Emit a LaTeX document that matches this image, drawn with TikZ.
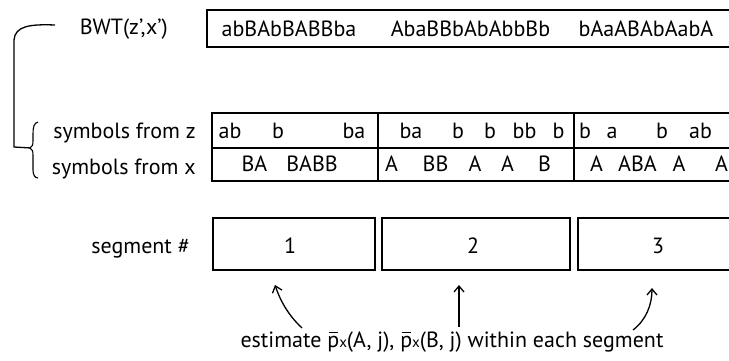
\documentclass[tikz,border=0pt]{standalone}
\usepackage{fontspec}
\setmainfont{PT Sans}
\usetikzlibrary{arrows.meta}
\newcommand\pbarx{\hbox{\rlap{\kern0.06em\raisebox{0.62em}{\rule{0.44em}{0.06em}}}p{\fontsize{15}{15}\selectfont x}}}
\begin{document}
\begin{tikzpicture}[x=1pt,y=-1pt,
  lbl/.style={font=\fontsize{22}{24}\selectfont, inner sep=0pt, anchor=base},
  rlbl/.style={font=\fontsize{22}{24}\selectfont, inner sep=0pt, anchor=base east},
  frame/.style={line width=1.4pt},
  hand/.style={line width=1.3pt, -{Straight Barb[length=6pt,width=10pt,line width=1.3pt]}}]
\useasboundingbox (0,0) rectangle (729,360);
\clip (0,0) rectangle (729,360);
% top label and box
\node[rlbl] (bwt) at (168,34) {BWT(z',x')};
\draw[frame] (740,10) -- (207,10) -- (207,47) -- (740,47);
\node[lbl] (t1) at (289,36) {abBAbBABBba};
\node[lbl] (t2) at (470.5,36) {AbaBBbAbAbbBb};
\node[lbl] (t3) at (646,36) {bAaABAbAabA};
% bracket
\draw[line width=1.3pt] (55,25) .. controls (30,24) and (15,26) .. (14,40) -- (14,147) -- (31,148);
\draw[line width=1.1pt] (38,122) .. controls (34,123) and (33,127) .. (33,134) -- (33,141) .. controls (33,145) and (32,147) .. (30,148) .. controls (32,149) and (33,151) .. (33,155) -- (33,170) .. controls (33,175) and (35,178) .. (38,178);
% symbol labels
\node[rlbl] (sz) at (196,138) {symbols from z};
\node[rlbl] (sx) at (196,174) {symbols from x};
% table
\draw[frame] (740,113) -- (212,113) -- (212,181) -- (740,181);
\draw[frame] (212,148) -- (740,148);
\draw[frame] (378,113) -- (378,181);
\draw[frame] (574,113) -- (574,181);
% row 1
\node[lbl] (z1) at (230,138) {ab};
\node[lbl] (z2) at (278,138) {b};
\node[lbl] (z3) at (354,138) {ba};
\node[lbl] (z4) at (411,138) {ba};
\node[lbl] (z5) at (458,138) {b};
\node[lbl] (z6) at (490,138) {b};
\node[lbl] (z7) at (524.5,138) {bb};
\node[lbl] (z8) at (558.5,138) {b};
\node[lbl] (z9) at (585,138) {b};
\node[lbl] (z10) at (612,138) {a};
\node[lbl] (z11) at (662,138) {b};
\node[lbl] (z12) at (700.5,138) {ab};
% row 2
\node[lbl] (x1) at (254.5,171) {BA};
\node[lbl] (x2) at (312,171) {BABB};
\node[lbl] (x3) at (391.5,171) {A};
\node[lbl] (x4) at (435.5,171) {BB};
\node[lbl] (x5) at (475,171) {A};
\node[lbl] (x6) at (507.5,171) {A};
\node[lbl] (x7) at (544.5,171) {B};
\node[lbl] (x8) at (596.5,171) {A};
\node[lbl] (x9) at (637.5,171) {ABA};
\node[lbl] (x10) at (679,171) {A};
\node[lbl] (x11) at (721.5,171) {A};
% segments
\node[rlbl] (seg) at (190,253) {segment \#};
\draw[frame] (213,218) rectangle (375,270);
\draw[frame] (382,218) rectangle (570,270);
\draw[frame] (740,218) -- (578,218) -- (578,270) -- (740,270);
\node[lbl] (s1) at (290,253) {1};
\node[lbl] (s2) at (473,253) {2};
\node[lbl] (s3) at (658,253) {3};
\coordinate (h1) at (275,285);
\coordinate (h2) at (459,285);
\coordinate (h3) at (652,288);
% caption
\node[lbl] (cap) at (452,347) {estimate \pbarx(A, j), \pbarx(B, j) within each segment};
\draw[hand] (302,328) .. controls (288,315) and (280,300) .. (h1);
\draw[hand] (459,327) -- (h2);
\draw[hand] (633,330) .. controls (646,320) and (652,305) .. (h3);
\end{tikzpicture}
\end{document}
